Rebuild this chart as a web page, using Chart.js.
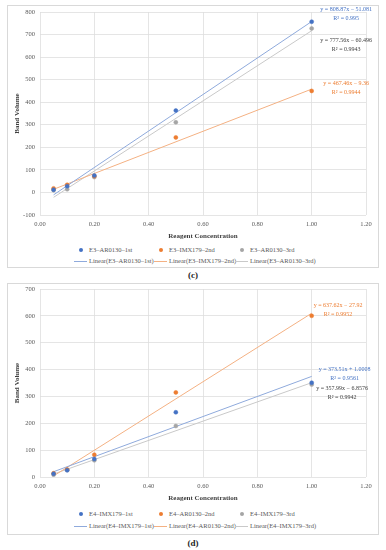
<!DOCTYPE html>
<html>
<head>
<meta charset="utf-8">
<script src="https://cdn.jsdelivr.net/npm/chart.js@4.4.1/dist/chart.umd.min.js"></script>
<style>
  html, body { margin: 0; padding: 0; background: #fff; }
  body { width: 386px; height: 550px; position: relative; overflow: hidden; font-family: 'Liberation Serif', 'DejaVu Serif', serif; }
  .frame { position: absolute; left: 7px; width: 370px; border: 1px solid #d9d9d9; background: #fff; }
  .frame canvas { position: absolute; left: 0; top: 0; }
  .lg { position: absolute; font-size: 6.5px; color: #595959; white-space: nowrap; line-height: 8px; }
  .lg .sym { display: inline-block; width: 14px; height: 8px; position: relative; vertical-align: top; margin-right: 1px; }
  .lg .dot { position: absolute; left: 5px; top: 2px; width: 4px; height: 4px; border-radius: 50%; }
  .lg .ln { position: absolute; left: 0; right: 1px; top: 4px; border-top: 1px solid; }
  .cap { position: absolute; left: 0; width: 386px; text-align: center; font-size: 9px; font-weight: bold; color: #222; }
</style>
</head>
<body>
<div class="frame" id="frame-c" style="top:5px;height:261px;">
  <canvas id="chart-c"></canvas>
</div>
<div class="cap" style="top:270px;">(c)</div>
<div class="frame" id="frame-d" style="top:283px;height:250px;">
  <canvas id="chart-d"></canvas>
</div>
<div class="cap" style="top:538px;">(d)</div>

<script>
// data (c) dan (d)
const concentrations = [0.05, 0.1, 0.2, 0.5, 1.0];

const namesC = ['E3–AR0130–1st', 'E3–IMX179–2nd', 'E3–AR0130–3rd'];
const valuesC1 = [12, 28, 75, 363, 757];
const valuesC2 = [18, 34, 72, 244, 450];
const valuesC3 = [10, 14, 68, 311, 727];
const slopesC = [808.87, 467.46, 777.56];
const interceptsC = [-51.081, -9.36, -60.496];
const eqTextC = ['y = 808.87x − 51.081', 'y = 467.46x − 9.36', 'y = 777.56x − 60.496'];
const r2TextC = ['R² = 0.995', 'R² = 0.9944', 'R² = 0.9943'];

const namesD = ['E4–IMX179–1st', 'E4–AR0130–2nd', 'E4–IMX179–3rd'];
const valuesD1 = [12, 25, 67, 241, 351];
const valuesD2 = [14, 28, 83, 315, 600];
const valuesD3 = [8, 26, 62, 190, 344];
const slopesD = [373.51, 637.62, 357.99];
const interceptsD = [1.0008, -27.92, -6.8576];
const eqTextD = ['y = 373.51x + 1.0008', 'y = 637.62x − 27.92', 'y = 357.99x − 6.8576'];
const r2TextD = ['R² = 0.9561', 'R² = 0.9952', 'R² = 0.9942'];

const xTicks = [0, 0.2, 0.4, 0.6, 0.8, 1.0, 1.2];

const dotColors = ['#4472c4', '#ed7d31', '#a5a5a5'];
const trendColors = ['#8faadc', '#f4b183', '#c9c9c9'];
const eqColors = ['#4472c4', '#ed7d31', '#404040'];
const FONT = "'Liberation Serif', 'DejaVu Serif', serif";

// posisi label persamaan (dalam satuan data)
const eqPosC = [{ x: 1.127, y: 810 }, { x: 1.127, y: 485 }, { x: 1.127, y: 676 }];
const eqPosD = [{ x: 1.121, y: 402 }, { x: 1.097, y: 637 }, { x: 1.112, y: 328 }];

function trendPoints(slope, intercept) {
    const x0 = concentrations[0];
    const x1 = concentrations[concentrations.length - 1];
    return [{ x: x0, y: slope * x0 + intercept }, { x: x1, y: slope * x1 + intercept }];
}

function buildDatasets(names, seriesValues, slopes, intercepts) {
    const dots = seriesValues.map((vals, i) => ({
        type: 'scatter',
        label: names[i],
        data: vals.map((v, j) => ({ x: concentrations[j], y: v })),
        backgroundColor: dotColors[i],
        borderColor: dotColors[i],
        borderWidth: 0.5,
        pointRadius: 2,
        order: 1,
    }));
    const lines = slopes.map((s, i) => ({
        type: 'line',
        label: `Linear(${names[i]})`,
        data: trendPoints(s, intercepts[i]),
        borderColor: trendColors[i],
        borderWidth: 1,
        pointRadius: 0,
        fill: false,
        order: 2,
    }));
    return [...dots, ...lines];
}

const equationPlugin = {
    id: 'equations',
    afterDatasetsDraw(chart, args, opts) {
        const { ctx, scales } = chart;
        ctx.save();
        ctx.font = `6px ${FONT}`;
        ctx.textAlign = 'center';
        ctx.textBaseline = 'middle';
        opts.pos.forEach((p, i) => {
            const px = scales.x.getPixelForValue(p.x);
            const py = scales.y.getPixelForValue(p.y);
            ctx.fillStyle = eqColors[i];
            ctx.fillText(opts.eq[i], px, py);
            ctx.fillText(opts.r2[i], px, py + 9);
        });
        ctx.restore();
    },
};

function makeChart(id, w, h, padTop, datasets, yMin, yMax, eq) {
    const canvas = document.getElementById(id);
    canvas.style.width = w + 'px';
    canvas.style.height = h + 'px';
    canvas.width = w;
    canvas.height = h;
    const tickFont = { family: FONT, size: 6.5 };
    const titleFont = { family: FONT, size: 7, weight: 'bold' };
    return new Chart(canvas, {
        type: 'scatter',
        data: { datasets },
        plugins: [equationPlugin],
        options: {
            responsive: false,
            animation: false,
            devicePixelRatio: 1,
            layout: { padding: { left: 0, right: 12, top: padTop, bottom: 2 } },
            plugins: {
                legend: { display: false },
                tooltip: { enabled: false },
                equations: eq,
            },
            scales: {
                x: {
                    type: 'linear',
                    min: 0,
                    max: 1.2,
                    afterBuildTicks: (s) => { s.ticks = xTicks.map((v) => ({ value: v })); },
                    ticks: { color: '#595959', font: tickFont, padding: 5, maxRotation: 0, callback: (v) => Number(v).toFixed(2) },
                    grid: { color: '#dedede', lineWidth: 0.8, drawTicks: false },
                    border: { display: false },
                    title: { display: true, text: 'Reagent Concentration', color: '#404040', font: titleFont, padding: { top: 2, bottom: 0 } },
                    afterFit: (s) => { s.height = 25; },
                },
                y: {
                    min: yMin,
                    max: yMax,
                    ticks: { stepSize: 100, color: '#595959', font: tickFont, padding: 5 },
                    grid: { color: '#dedede', lineWidth: 0.8, drawTicks: false },
                    border: { display: false },
                    title: { display: true, text: 'Band Volume', color: '#404040', font: titleFont, padding: { top: 5, bottom: 0 } },
                    // area plot harus mulai tepat di padTop, jadi buang padding label
                    afterFit: (s) => { s.width = 32; s.paddingTop = 0; s.paddingBottom = 0; },
                },
            },
        },
    });
}

function buildLegend(frameId, names, rowTops) {
    const frame = document.getElementById(frameId);
    const cols = [66, 146, 227];
    names.forEach((n, i) => {
        const a = document.createElement('div');
        a.className = 'lg';
        a.style.left = cols[i] + 'px';
        a.style.top = rowTops[0] + 'px';
        a.innerHTML = `<span class="sym"><span class="dot" style="background:${dotColors[i]}"></span></span>${n}`;
        frame.appendChild(a);
        const b = document.createElement('div');
        b.className = 'lg';
        b.style.left = cols[i] + 'px';
        b.style.top = rowTops[1] + 'px';
        b.innerHTML = `<span class="sym"><span class="ln" style="border-color:${trendColors[i]}"></span></span>Linear(${n})`;
        frame.appendChild(b);
    });
}

makeChart('chart-c', 370, 236, 6,
    buildDatasets(namesC, [valuesC1, valuesC2, valuesC3], slopesC, interceptsC),
    -100, 800, { pos: eqPosC, eq: eqTextC, r2: r2TextC });
buildLegend('frame-c', namesC, [240, 251]);

makeChart('chart-d', 370, 220, 5,
    buildDatasets(namesD, [valuesD1, valuesD2, valuesD3], slopesD, interceptsD),
    0, 700, { pos: eqPosD, eq: eqTextD, r2: r2TextD });
buildLegend('frame-d', namesD, [226, 238]);
</script>
</body>
</html>
